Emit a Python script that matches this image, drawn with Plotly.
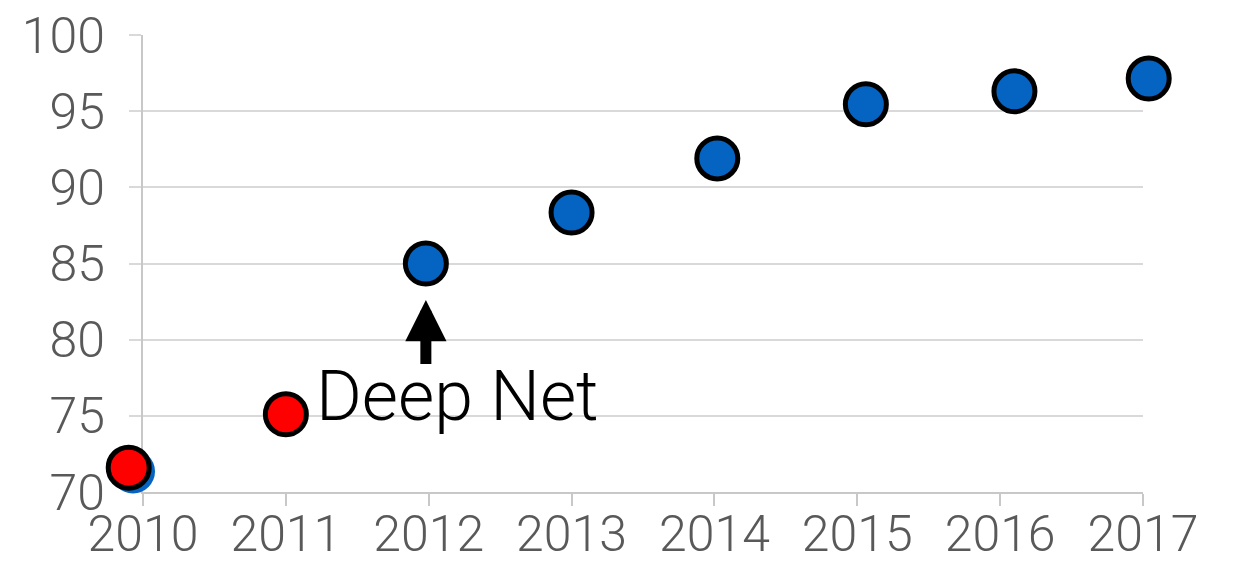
import plotly.graph_objects as go

# Data
blue_years = [2009.93, 2011.98, 2013.0, 2014.02, 2015.06, 2016.1, 2017.04]
blue_vals = [71.35, 85.0, 88.35, 91.9, 95.45, 96.3, 97.15]
red_years = [2009.9, 2011.0]
red_vals = [71.6, 75.1]
year_ticks = [2010, 2011, 2012, 2013, 2014, 2015, 2016, 2017]
y_ticks = [70, 75, 80, 85, 90, 95, 100]

W, H = 1235, 564
ML, MR, MT, MB = 60, 20, 35, 72
plot_w = W - ML - MR
ax_left, ax_right = 143, 1143  # pixel positions of the visible axis
x0, x1 = 2010, 2017
ppy = (ax_right - ax_left) / (x1 - x0)
dom = [(ax_left - ML) / plot_w, (ax_right - ML) / plot_w]
x2_range = [x0 - (ax_left - ML) / ppy, x1 + (W - MR - ax_right) / ppy]

# first blue point is mostly hidden under the red one and has no outline
blue_sizes = [44] + [41] * (len(blue_years) - 1)
blue_lw = [0] + [5] * (len(blue_years) - 1)

fig = go.Figure()
fig.add_trace(go.Scatter(
    x=blue_years, y=blue_vals, mode="markers", cliponaxis=False,
    xaxis="x2", yaxis="y2",
    marker=dict(size=blue_sizes, color="#0563C1", opacity=1,
                line=dict(color="black", width=blue_lw)),
    showlegend=False, hoverinfo="skip"))
fig.add_trace(go.Scatter(
    x=red_years, y=red_vals, mode="markers", cliponaxis=False,
    xaxis="x2", yaxis="y2",
    marker=dict(size=41, color="#FF0000", opacity=1,
                line=dict(color="black", width=5)),
    showlegend=False, hoverinfo="skip"))

# Arrow pointing at the 2012 point
fig.add_annotation(x=2011.98, y=82.6, ax=2011.98, ay=78.3,
                   xref="x", yref="y", axref="x", ayref="y",
                   text="", showarrow=True, arrowhead=2, arrowsize=0.75,
                   arrowwidth=11, arrowcolor="black")
fig.add_annotation(x=2011.2, y=76.3, xref="x", yref="y", text="Deep Net",
                   showarrow=False, xanchor="left", yanchor="middle",
                   font=dict(family="Roboto", size=70, color="black", weight=300))

fig.update_layout(
    width=W, height=H,
    margin=dict(l=ML, r=MR, t=MT, b=MB),
    plot_bgcolor="rgba(0,0,0,0)", paper_bgcolor="white",
    xaxis=dict(domain=dom, range=[x0, x1], tickvals=year_ticks,
               ticktext=[str(v) for v in year_ticks], automargin=False,
               showgrid=False, zeroline=False, showline=True,
               linecolor="#c8c8c8", linewidth=2, ticks="outside",
               ticklen=12, tickwidth=2, tickcolor="#c8c8c8",
               ticklabelstandoff=-15,
               tickfont=dict(family="Roboto", size=50, color="#595959", weight=300)),
    yaxis=dict(range=[70, 100], tickvals=y_ticks, automargin=False,
               showgrid=True, gridcolor="#d9d9d9", gridwidth=2,
               zeroline=False, showline=True, linecolor="#c8c8c8",
               linewidth=2, ticks="outside", ticklen=12, tickwidth=2,
               tickcolor="#d9d9d9", ticklabelstandoff=14,
               tickfont=dict(family="Roboto", size=50, color="#595959", weight=300)),
    xaxis2=dict(domain=[0, 1], range=x2_range, visible=False, anchor="y2"),
    yaxis2=dict(domain=[0, 1], range=[70, 100], visible=False, anchor="x2"),
)
fig.write_html("out.html")
